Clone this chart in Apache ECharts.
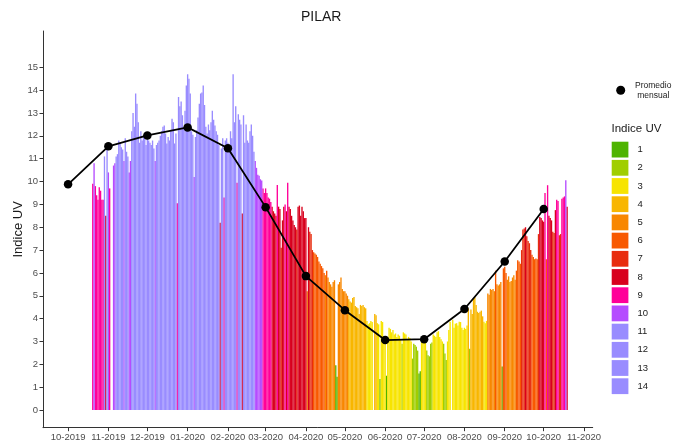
<!DOCTYPE html>
<html>
<head>
<meta charset="utf-8">
<script src="https://cdn.jsdelivr.net/npm/echarts@6/dist/echarts.min.js"></script>
<style>
html,body{margin:0;padding:0;background:#fff;}
#chart{width:686px;height:443px;}
</style>
</head>
<body>
<div id="chart"></div>
<script>
// ---- Data ----
// Daily UV index, one array per month (first array starts on 2019-10-20; null = missing day)
const oct2019 = [9.9, 10.8, 9.8, 9.4, 9.2, 9.75, 9.6, 9.2, 9.2, 11.1, 8.5, 11.5];
const nov2019 = [10.4, 9.7, null, null, 10.7, 10.8, 11.1, 11.2, 11.8, 11.7, 11.5, 11.4, 10.9, 11.9, 11.3, 11.1, 10.4, 10.9, 12.2, 13.0, 12.4, 13.85, 13.4, 12.6, 11.7, 12.2, 11.8, 11.95, 12.1, 11.6];
const dec2019 = [11.9, 11.8, 11.7, 11.6, 11.8, 11.45, 10.9, 11.6, 11.7, 11.8, 12.0, 12.2, 12.4, 12.45, 12.1, 11.66, 11.95, 11.8, 12.2, 12.75, 12.6, 11.66, 12.1, 9.05, 13.7, 13.3, 13.5, 12.9, 12.4, 13.1, 14.2];
const jan2020 = [14.7, 14.5, 13.85, 12.2, 12.05, 10.2, 11.95, 12.25, 12.8, 13.4, 13.85, 13.9, 14.2, 13.35, 12.4, 12.1, 12.5, 12.25, 12.6, 13.1, 12.7, 12.45, 12.2, 12.05, 11.6, 8.2, 11.45, 11.9, 9.3, 11.8, 11.9];
const feb2020 = [11.7, 11.5, 12.2, 11.9, 14.7, 12.6, 13.3, 9.95, 12.95, 12.7, 12.5, 8.6, 12.9, 11.7, 12.5, 11.8, 11.7, 12.2, 12.5, 12.0, 11.3, 10.9, 10.6, 10.3, 10.25, 10.1, 10.05, 9.7, 9.5];
const mar2020 = [9.7, 9.5, 9.3, 9.25, 9.1, 8.9, 8.7, 8.6, 8.5, 9.85, 8.9, 8.8, 7.1, 8.3, 8.9, 9.0, 8.7, 9.95, 8.9, 8.8, 8.5, 8.3, 8.1, 8.0, 7.9, 8.9, 8.95, 8.5, 8.9, 8.7, 8.4];
const apr2020 = [8.4, 5.2, 8.0, 7.8, 7.7, 7.0, 6.9, 6.85, 6.8, 6.7, 6.5, 6.4, 6.3, 6.2, 6.0, 5.9, 6.1, 5.8, 5.6, 5.5, 5.4, 5.6, 5.68, 1.96, 1.45, 5.5, 5.6, 5.8, 5.3, 5.2];
const may2020 = [5.2, 5.1, 5.0, 4.85, 4.75, 4.7, 4.9, 4.95, 4.55, 4.5, 4.45, 4.2, 4.6, 4.55, 4.6, 4.5, 4.45, 3.9, 3.75, 3.8, 3.9, 3.85, null, 4.2, 4.15, 3.8, 3.75, 1.36, 3.9, 3.85, 3.1];
const jun2020 = [3.1, 1.5, 3.0, 3.6, 3.55, 3.4, 3.5, 3.3, 3.35, 3.2, 3.3, 3.25, 3.1, 2.9, 3.4, 3.35, 3.3, 3.1, 3.2, 3.15, 3.0, 2.25, 2.9, 2.85, 2.77, 2.6, 1.6, 1.7, 3.1, 3.13];
const jul2020 = [3.1, 3.15, 2.6, 2.4, 2.35, 2.9, 2.95, 3.3, 3.25, 3.2, 3.4, 3.45, 3.2, 3.1, 3.0, 2.9, 2.47, 2.19, 3.0, 3.5, 3.86, null, 3.95, 3.6, 3.78, 3.8, 3.7, 3.86, 3.85, 3.6, 3.5];
const aug2020 = [3.6, 3.55, 3.7, 4.45, 2.68, 4.4, 4.2, 4.9, 4.95, 4.6, 4.3, 4.25, 4.3, 4.35, 4.1, 3.86, 3.8, 3.9, 5.1, 5.05, 5.3, 5.25, 5.3, 5.2, 6.1, 5.5, 5.45, 5.5, 5.6, 1.9, 6.2];
const sep2020 = [6.27, 6.0, 5.7, 5.85, 5.6, 5.65, 5.8, 5.9, 5.7, 6.1, 6.55, 6.5, 6.4, 7.0, 7.9, 7.95, 8.0, 7.6, 7.4, 7.3, 7.0, 6.8, 6.7, 6.6, 6.63, 6.6, 7.7, 8.45, 8.4, 8.3];
const oct2020 = [8.24, 9.5, 6.6, 9.84, 8.5, 8.4, 8.3, 7.8, 7.75, 8.75, 9.2, 9.15, 7.65, 7.7, 9.25, 9.3, 9.35, 10.06, 8.9];

// Monthly mean ("Promedio mensual"), plotted on the first day of each month
const meanMonths = ['2019-10', '2019-11', '2019-12', '2020-01', '2020-02', '2020-03', '2020-04', '2020-05', '2020-06', '2020-07', '2020-08', '2020-09', '2020-10'];
const monthlyMean = [9.88, 11.54, 12.02, 12.37, 11.46, 8.88, 5.86, 4.37, 3.06, 3.1, 4.42, 6.5, 8.8];

// Axis tick labels
const xTickMonths = ['2019-10', '2019-11', '2019-12', '2020-01', '2020-02', '2020-03', '2020-04', '2020-05', '2020-06', '2020-07', '2020-08', '2020-09', '2020-10', '2020-11'];
const yTicks = [0, 1, 2, 3, 4, 5, 6, 7, 8, 9, 10, 11, 12, 13, 14, 15];

// UV index legend levels
const uvLevels = [1, 2, 3, 4, 5, 6, 7, 8, 9, 10, 11, 12, 13, 14];

// ---- Styles ----
const uvColors = ['#4EB400', '#A0CE00', '#F7E400', '#F8B600', '#F88700', '#F85900', '#E82C0E', '#D8001D', '#FF0099', '#B54CFF', '#998CFF', '#998CFF', '#998CFF', '#998CFF'];
const FONT = '"Liberation Sans", Arial, sans-serif';

// ---- Build data: x is measured in days since 2019-10-01 ----
const DAY = 86400000;
const BASE = Date.UTC(2019, 9, 1);
function dayNum(y, m, d) { return Math.round((Date.UTC(y, m, d) - BASE) / DAY); }
function monthDay(s) { const p = s.split('-'); return dayNum(+p[0], +p[1] - 1, 1); }
function dayLabel(n) {
  const d = new Date(BASE + n * DAY);
  return String(d.getUTCMonth() + 1).padStart(2, '0') + '-' + d.getUTCFullYear();
}
const monthBlocks = [
  [2019, 9, 20, oct2019], [2019, 10, 1, nov2019], [2019, 11, 1, dec2019],
  [2020, 0, 1, jan2020], [2020, 1, 1, feb2020], [2020, 2, 1, mar2020],
  [2020, 3, 1, apr2020], [2020, 4, 1, may2020], [2020, 5, 1, jun2020],
  [2020, 6, 1, jul2020], [2020, 7, 1, aug2020], [2020, 8, 1, sep2020],
  [2020, 9, 1, oct2020]
];
const days = [];
monthBlocks.forEach(([y, m, d0, arr]) => {
  arr.forEach((v, i) => {
    if (v !== null && v !== undefined) days.push({ x: dayNum(y, m, d0 + i), v: v });
  });
});
function uvLevel(v) { return Math.min(14, Math.max(1, Math.floor(v))); }

const xTickValues = xTickMonths.map(monthDay);
const xMin = -19.3;
const xMax = monthDay('2020-11') + 6.7;

const barSeries = uvLevels.map((lvl, i) => ({
  name: String(lvl),
  type: 'bar',
  barWidth: 1.35,
  barGap: '-100%',
  itemStyle: { color: uvColors[i] },
  emphasis: { disabled: true },
  data: days.filter(d => uvLevel(d.v) === lvl).map(d => [d.x, d.v])
}));

const lineSeries = {
  name: 'Promedio mensual',
  type: 'line',
  z: 10,
  symbol: 'circle',
  symbolSize: 8.5,
  lineStyle: { color: '#000', width: 1.8 },
  itemStyle: { color: '#000' },
  emphasis: { disabled: true },
  data: meanMonths.map((m, i) => [monthDay(m), monthlyMean[i]])
};

const chart = echarts.init(document.getElementById('chart'), null, { renderer: 'canvas' });
chart.setOption({
  animation: false,
  backgroundColor: '#fff',
  textStyle: { fontFamily: FONT },
  title: [
    { text: 'PILAR', left: 301, top: 10, padding: 0, textStyle: { fontFamily: FONT, fontSize: 14, fontWeight: 'normal', color: '#1a1a1a' } },
    { text: 'Indice UV', left: 611.5, top: 123, padding: 0, textStyle: { fontFamily: FONT, fontSize: 11.5, fontWeight: 'normal', color: '#1a1a1a' } }
  ],
  legend: [
    {
      data: ['Promedio mensual'],
      orient: 'vertical',
      left: 616.2,
      top: 80.7,
      padding: 0,
      icon: 'circle',
      itemWidth: 9,
      itemHeight: 9,
      selectedMode: false,
      formatter: '{a|Promedio}\n{a|mensual}',
      textStyle: { fontFamily: FONT, rich: { a: { fontFamily: FONT, fontSize: 8.5, align: 'center', width: 46, lineHeight: 10, color: '#1a1a1a' } } }
    },
    {
      data: uvLevels.map(String),
      orient: 'vertical',
      left: 611.7,
      top: 141.7,
      padding: 0,
      icon: 'rect',
      itemWidth: 16.7,
      itemHeight: 15.8,
      itemGap: 2.4,
      selectedMode: false,
      textStyle: { fontFamily: FONT, fontSize: 9.5, color: '#1a1a1a', padding: [0, 0, 0, 4] }
    }
  ],
  grid: { left: 43, right: 93.3, top: 31, bottom: 15.3, containLabel: false, outerBoundsMode: 'none' },
  xAxis: {
    type: 'value',
    min: xMin,
    max: xMax,
    splitLine: { show: false },
    axisLine: { show: true, onZero: false, lineStyle: { color: '#333', width: 1 } },
    axisTick: { show: true, length: 3.5, customValues: xTickValues, lineStyle: { color: '#333' } },
    axisLabel: {
      customValues: xTickValues,
      margin: 5,
      fontFamily: FONT,
      fontSize: 9.5,
      color: '#4d4d4d',
      formatter: function (val) { return dayLabel(val); }
    }
  },
  yAxis: {
    type: 'value',
    min: -0.775,
    max: 16.59,
    name: 'Indice UV',
    nameLocation: 'middle',
    nameGap: 18,
    nameMoveOverlap: false,
    nameTextStyle: { fontFamily: FONT, fontSize: 13, color: '#1a1a1a' },
    splitLine: { show: false },
    axisLine: { show: true, onZero: false, lineStyle: { color: '#333', width: 1 } },
    axisTick: { show: true, length: 3.5, customValues: yTicks, lineStyle: { color: '#333' } },
    axisLabel: { customValues: yTicks, margin: 5, fontFamily: FONT, fontSize: 9.5, color: '#4d4d4d' }
  },
  series: barSeries.concat([lineSeries])
});
</script>
</body>
</html>
